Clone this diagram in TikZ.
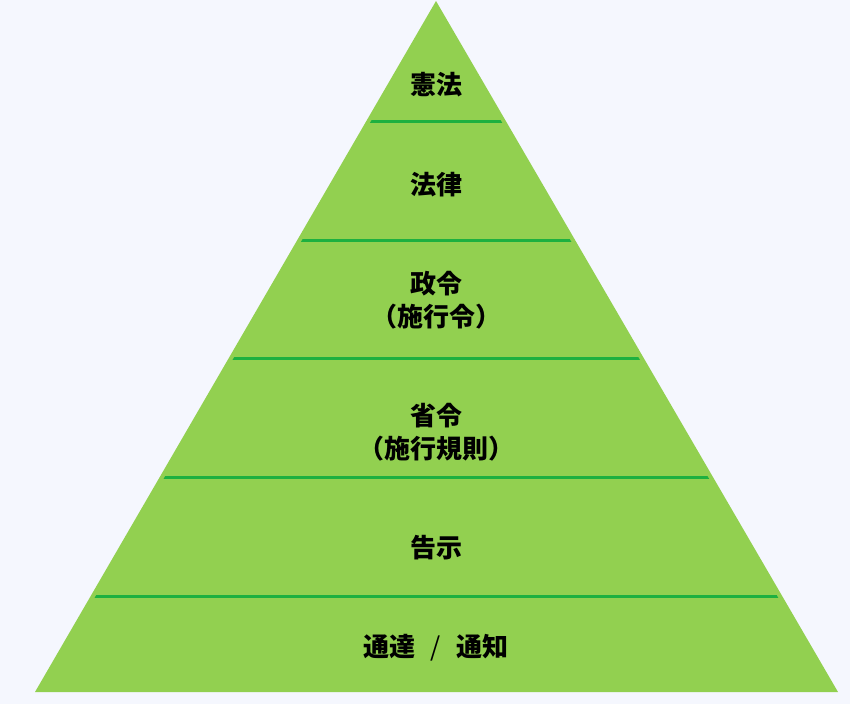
\documentclass[tikz,border=0pt]{standalone}
\usepackage{fontspec}
\usetikzlibrary{calc}
\newfontfamily\cjk{Noto Sans CJK JP}
\definecolor{bgc}{HTML}{F5F7FE}
\definecolor{pyr}{HTML}{92D050}
\definecolor{sep}{HTML}{1DB040}
\begin{document}
\begin{tikzpicture}[x=1pt,y=-1pt,
  lbl/.style={font=\cjk\bfseries\fontsize{26}{33}\selectfont, align=center, inner sep=0pt, text=black},
  sepline/.style={draw=sep, line width=3pt}]
\useasboundingbox (0,0) rectangle (850,704);
\fill[bgc] (0,0) rectangle (850,704);
\coordinate (apex) at (436,1);
\coordinate (bl) at (35,692);
\coordinate (br) at (838,692);
\fill[pyr] (apex) -- (br) -- (bl) -- cycle;
\begin{scope}
\clip ($(apex)+(0,8)$) -- ($(br)+(-5,0)$) -- ($(bl)+(5,0)$) -- cycle;
\foreach \yy in {121,240,358,477,596} {
  \draw[sepline] (0,\yy) -- (850,\yy);
}
\end{scope}
\node[lbl] (kenpo) at (436,85) {憲法};
\node[lbl] (horitsu) at (436,185) {法律};
\node[lbl] (seirei) at (436,300) {政令\\（施行令）};
\node[lbl] (shorei) at (436,432) {省令\\（施行規則）};
\node[lbl] (kokuji) at (436,548) {告示};
\node[lbl] (tsutatsu) at (436,648) {通達\hspace{0.6em}{\mdseries /}\hspace{0.6em}通知};
\end{tikzpicture}
\end{document}
